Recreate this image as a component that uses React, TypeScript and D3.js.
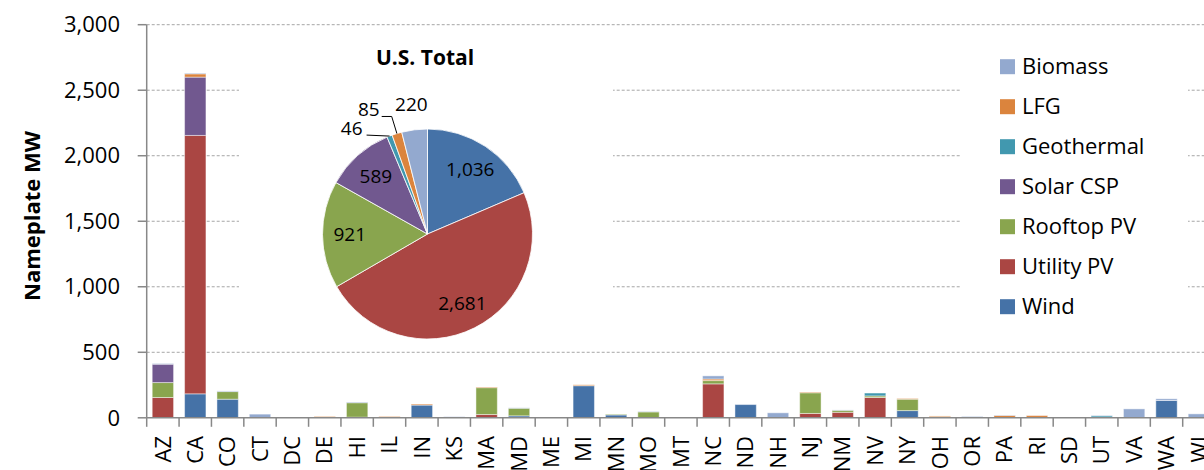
import React from "react";
import * as d3 from "d3";

const states = ["AZ","CA","CO","CT","DC","DE","HI","IL","IN","KS","MA","MD","ME","MI","MN","MO","MT","NC","ND","NH","NJ","NM","NV","NY","OH","OR","PA","RI","SD","UT","VA","WA","WI"];
const seriesNames = ["Wind","Utility PV","Rooftop PV","Solar CSP","Geothermal","LFG","Biomass"];
const seriesColors = ["#4572A7","#AA4643","#89A54E","#71588F","#4198AF","#DB843D","#93A9CF"];
//                 AZ   CA   CO  CT DC DE HI IL IN KS MA  MD ME MI  MN MO MT NC  ND  NH NJ  NM NV  NY OH OR PA RI SD UT VA WA  WI
const wind =      [0,  183, 142, 0, 0, 0, 0, 0, 97, 0, 0, 15, 0, 245, 22, 0, 6, 0, 101, 0, 0, 0, 0, 55, 0, 0, 0, 0, 6, 0, 0, 132, 0];
const utilityPV = [155,1972, 0, 0, 0, 0, 5, 0, 0, 0, 25, 0, 0, 0, 0, 0, 0, 259, 0, 0, 33, 42, 155, 0, 0, 0, 0, 0, 0, 0, 0, 0, 0];
const rooftopPV = [114, 0, 58, 0, 0, 0, 110, 0, 0, 0, 205, 58, 0, 0, 5, 45, 0, 25, 0, 0, 158, 15, 12, 87, 8, 0, 0, 0, 0, 0, 0, 0, 0];
const solarCSP =  [140, 445, 0, 0, 0, 0, 0, 0, 0, 0, 0, 0, 0, 0, 0, 0, 0, 0, 0, 0, 0, 0, 0, 0, 0, 0, 0, 0, 0, 0, 0, 0, 0];
const geothermal =[0, 0, 0, 0, 0, 0, 0, 0, 0, 0, 0, 0, 0, 0, 0, 0, 0, 0, 0, 0, 0, 0, 22, 0, 0, 0, 0, 0, 0, 15, 0, 0, 0];
const lfg =       [0, 25, 0, 0, 0, 10, 0, 10, 8, 0, 5, 0, 0, 7, 0, 0, 0, 12, 0, 0, 5, 0, 0, 5, 6, 5, 18, 17, 0, 0, 0, 0, 0];
const biomass =   [5, 5, 5, 28, 0, 0, 5, 0, 0, 8, 0, 3, 0, 0, 0, 3, 0, 24, 0, 38, 0, 3, 0, 0, 0, 5, 3, 0, 0, 3, 68, 13, 30];
const seriesValues = [wind, utilityPV, rooftopPV, solarCSP, geothermal, lfg, biomass];

const totals = [1036, 2681, 921, 589, 46, 85, 220];
const yTicks = [0, 500, 1000, 1500, 2000, 2500, 3000];

const FONT = "'Open Sans', 'Liberation Sans', sans-serif";

export default function App() {
  const W = 1204, H = 470;
  const x0 = 146.7, step = 32.375;
  const x = d3.scaleBand<string>().domain(states).range([x0, x0 + states.length * step]).paddingInner(0.34).paddingOuter(0.17);
  const y = d3.scaleLinear().domain([0, 3000]).range([417.8, 24.7]);

  const rows = states.map((s, i) => {
    const r: any = { state: s };
    seriesNames.forEach((n, k) => (r[n] = seriesValues[k][i]));
    return r;
  });
  const stacked = d3.stack<any>().keys(seriesNames)(rows);

  const cx = 427.5, cy = 234, R = 105;
  const pie = d3.pie<number>().sort(null).value((d) => d);
  const arcs = pie(totals);
  const arcGen = d3.arc<any>().innerRadius(0).outerRadius(R);
  const fmt = d3.format(",");
  const polar = (a: number, r: number) => [cx + r * Math.sin(a), cy - r * Math.cos(a)];

  const gridColor = "#a6a6a6";
  const axisColor = "#888888";

  return (
    <svg width={W} height={H} style={{ position: "absolute", left: 0, top: 0, background: "#fff" }} fontFamily={FONT}>
      {/* gridlines */}
      {yTicks.filter((t) => t > 0).map((t) => (
        <line key={t} x1={x0} x2={W} y1={y(t)} y2={y(t)} stroke={gridColor} strokeWidth={1} strokeDasharray="3,2" />
      ))}
      {/* bars */}
      {stacked.map((layer, k) => (
        <g key={layer.key} fill={seriesColors[k]}>
          {layer.map((d, i) =>
            d[1] - d[0] > 0 ? (
              <rect key={i} x={x(states[i])} width={x.bandwidth()} y={y(d[1])} height={y(d[0]) - y(d[1])}
                stroke="#ffffff" strokeOpacity={0.45} strokeWidth={1} />
            ) : null
          )}
        </g>
      ))}
      {/* axes */}
      <line x1={x0} x2={x0} y1={y(3000)} y2={y(0)} stroke={axisColor} strokeWidth={1.5} />
      <line x1={x0} x2={W} y1={y(0)} y2={y(0)} stroke={axisColor} strokeWidth={1.5} />
      {yTicks.map((t) => (
        <g key={t}>
          <line x1={x0 - 9} x2={x0} y1={y(t)} y2={y(t)} stroke={axisColor} strokeWidth={1.5} />
          <text x={120} y={y(t)} dy="0.35em" textAnchor="end" fontSize={22} fill="#000">{fmt(t)}</text>
        </g>
      ))}
      {states.map((s, i) => (
        <line key={s} x1={x0 + i * step} x2={x0 + i * step} y1={y(0)} y2={y(0) + 9} stroke={axisColor} strokeWidth={1.5} />
      ))}
      {states.map((s) => (
        <text key={s} transform={`translate(${x(s)! + x.bandwidth() / 2},436) rotate(-90)`} dy="0.35em" textAnchor="end" fontSize={22} fill="#000">{s}</text>
      ))}
      <text transform="translate(32,216) rotate(-90)" dy="0.35em" textAnchor="middle" fontSize={22} fontWeight="bold" fill="#000">Nameplate MW</text>

      {/* pie panel */}
      <rect x={239} y={27} width={374} height={323} fill="#fff" />
      <text x={425} y={58} dy="0.35em" textAnchor="middle" fontSize={21} fontWeight="bold" fill="#000">U.S. Total</text>
      <g transform={`translate(${cx},${cy})`}>
        {arcs.map((a, i) => (
          <path key={i} d={arcGen(a)!} fill={seriesColors[i]} stroke="#fff" strokeWidth={0.8} />
        ))}
      </g>
      {arcs.map((a, i) => {
        const mid = (a.startAngle + a.endAngle) / 2;
        if (i < 4) {
          const [lx, ly] = polar(mid, R * 0.74);
          return <text key={i} x={lx} y={ly} dy="0.35em" textAnchor="middle" fontSize={19} fill="#000">{fmt(totals[i])}</text>;
        }
        if (i === 6) {
          const [lx, ly] = polar(mid, R * 1.24);
          return <text key={i} x={lx} y={ly} dy="0.35em" textAnchor="middle" fontSize={19} fill="#000">{fmt(totals[i])}</text>;
        }
        if (i === 5) {
          const [ex, ey] = polar(mid, R);
          const [bx, by] = polar(mid, R * 1.17);
          return (
            <g key={i}>
              <polyline points={`${ex},${ey} ${bx},${by} ${bx - 10},${by}`} fill="none" stroke="#000" strokeWidth={1} />
              <text x={bx - 12} y={by - 7} dy="0.35em" textAnchor="end" fontSize={19} fill="#000">{fmt(totals[i])}</text>
            </g>
          );
        }
        const [ex, ey] = polar(mid, R);
        return (
          <g key={i}>
            <polyline points={`${ex},${ey} ${ex - 23},${ey - 1}`} fill="none" stroke="#000" strokeWidth={1} />
            <text x={ex - 27} y={ey - 8} dy="0.35em" textAnchor="end" fontSize={19} fill="#000">{fmt(totals[i])}</text>
          </g>
        );
      })}

      {/* legend panel */}
      <rect x={960} y={27} width={228} height={323} fill="#fff" />
      {seriesNames.slice().reverse().map((n, j) => {
        const k = seriesNames.length - 1 - j;
        const cyL = 66.7 + j * 40;
        return (
          <g key={n}>
            <rect x={1000} y={cyL - 7.5} width={15} height={15} fill={seriesColors[k]} />
            <text x={1022} y={cyL} dy="0.35em" fontSize={22} fill="#000">{n}</text>
          </g>
        );
      })}
    </svg>
  );
}
